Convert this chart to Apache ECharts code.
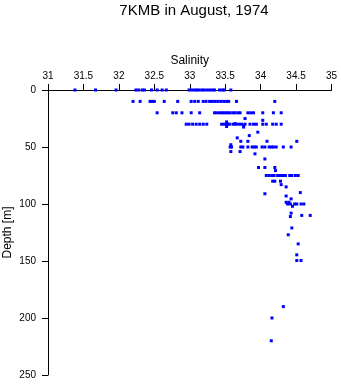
<!DOCTYPE html>
<html><head><meta charset="utf-8">
<script src="https://cdn.jsdelivr.net/npm/echarts@6/dist/echarts.min.js"></script>
<style>html,body{margin:0;padding:0;background:#fff}#c{width:341px;height:384px}</style>
</head><body><div id="c"></div>
<script>
const titleText = '7KMB in August, 1974';
const xName = 'Salinity';
const yName = 'Depth [m]';
const xTicks = [31, 31.5, 32, 32.5, 33, 33.5, 34, 34.5, 35];
const yTicks = [0, 50, 100, 150, 200, 250];

const salinity = [
  // 0 m
  31.38,31.67,31.96,32.24,32.28,32.33,32.36,32.46,32.54,32.61,32.67,32.99,33.03,33.07,33.10,33.13,33.17,33.20,33.24,33.28,33.32,33.35,33.42,33.46,33.49,33.58,
  // 10 m
  32.20,32.30,32.44,32.47,32.50,32.64,32.83,33.02,33.07,33.12,33.19,33.23,33.28,33.32,33.36,33.40,33.44,33.48,33.52,33.55,33.66,34.20,
  // 20 m
  32.54,32.76,32.81,32.89,33.02,33.14,33.35,33.38,33.42,33.45,33.48,33.51,33.54,33.57,33.61,33.64,33.68,33.71,33.82,33.86,33.90,34.03,34.18,34.29,
  // 25-33 m
  33.52,33.52,33.64,33.78,33.76,33.76,34.03,
  // 30 m
  32.95,32.99,33.04,33.09,33.14,33.19,33.24,33.45,33.49,33.53,33.56,33.61,33.65,33.69,33.73,33.78,33.85,33.90,33.94,34.03,34.08,34.17,34.22,34.29,
  // 37-45 m
  33.96,33.84,33.67,33.72,33.82,34.09,34.51,
  // 48-50 m
  33.58,33.57,33.59,33.72,33.75,33.82,33.88,33.91,33.94,34.02,34.06,34.12,34.15,34.18,34.22,34.32,34.43,
  // 54-71 m
  33.58,33.71,33.92,34.06,33.97,34.06,34.20,34.21,
  // 75 m
  34.08,34.12,34.16,34.19,34.24,34.27,34.31,34.35,34.41,34.44,34.49,34.53,
  // 80-102 m
  34.17,34.20,34.28,34.29,34.36,34.56,34.06,34.36,34.43,34.36,34.40,34.38,34.42,34.48,34.51,34.57,34.61,34.45,
  // deeper
  34.43,34.58,34.70,34.42,34.44,34.39,34.53,34.51,34.51,34.57,34.32,34.16,34.15
];
const depth = [
  0,0,0,0,0,0,0,0,0,0,0,0,0,0,0,0,0,0,0,0,0,0,0,0,0,0,
  10,10,10,10,10,10,10,10,10,10,10,10,10,10,10,10,10,10,10,10,10,10,
  20,20,20,20,20,20,20,20,20,20,20,20,20,20,20,20,20,20,20,20,20,20,20,20,
  28,32,29.5,25,31,32.5,26.6,
  30,30,30,30,30,30,30,30,30,30,30,30,30,30,30,30,30,30,30,30,30,30,30,30,
  37,40,42,45,45,45,45,
  48,50,50,50,50,50,50,50,50,50,50,50,50,50,50,50,50,
  54,54,56,60.5,68,68,68,70.7,
  75,75,75,75,75,75,75,75,75,75,75,75,
  80,80,80,83,85,90,91,93,95.5,98.5,98.5,100,100,100,100,100,100,102,
  108,110,110,111,121,127,135,144.6,149.6,149.6,190,200,220
];

const points = salinity.map((s, i) => [s, depth[i]]);
const font = 'Liberation Sans, Arial, sans-serif';

const chart = echarts.init(document.getElementById('c'), null, {renderer: 'canvas'});
chart.setOption({
  animation: false,
  backgroundColor: '#ffffff',
  title: {
    text: titleText,
    left: 189, top: -2, textAlign: 'center',
    textStyle: {fontFamily: font, fontSize: 15, fontWeight: 'normal', color: '#000'}
  },
  grid: {left: 48, right: 9.5, top: 90, bottom: 9, containLabel: false, outerBoundsMode: 'none'},
  xAxis: {
    type: 'value', position: 'top',
    min: xTicks[0], max: xTicks[xTicks.length - 1], interval: 0.5,
    name: xName, nameLocation: 'middle', nameGap: 23, nameMoveOverlap: false,
    nameTextStyle: {fontFamily: font, fontSize: 12, color: '#000'},
    axisLine: {show: true, onZero: false, lineStyle: {color: '#000', width: 1}},
    axisTick: {show: true, length: 6, lineStyle: {color: '#000'}},
    axisLabel: {fontFamily: font, fontSize: 10, color: '#000', margin: 9},
    splitLine: {show: false}
  },
  yAxis: {
    type: 'value', inverse: true,
    min: yTicks[0], max: yTicks[yTicks.length - 1], interval: 50,
    name: yName, nameLocation: 'middle', nameGap: 34.5, nameRotate: 90, nameMoveOverlap: false,
    nameTextStyle: {fontFamily: font, fontSize: 12, color: '#000', align: 'center', verticalAlign: 'bottom'},
    axisLine: {show: true, onZero: false, lineStyle: {color: '#000', width: 1}},
    axisTick: {show: true, length: 6, lineStyle: {color: '#000'}},
    axisLabel: {fontFamily: font, fontSize: 10, color: '#000', margin: 12},
    splitLine: {show: false}
  },
  series: [{
    type: 'scatter',
    data: points,
    symbol: 'rect',
    symbolSize: 3,
    itemStyle: {color: '#0000ff', opacity: 1},
    emphasis: {disabled: true},
    z: 5
  }]
});
</script>
</body></html>
